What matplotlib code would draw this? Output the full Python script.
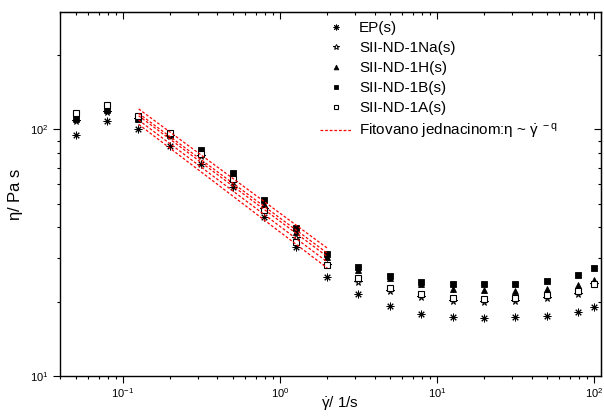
import matplotlib
matplotlib.use("Agg")
import matplotlib.pyplot as plt
from matplotlib.ticker import LogLocator, NullFormatter

plt.rcParams['font.family'] = ['Liberation Sans', 'DejaVu Sans']
plt.rcParams['mathtext.fontset'] = 'custom'
plt.rcParams['mathtext.rm'] = 'Liberation Sans'
plt.rcParams['mathtext.it'] = 'Liberation Sans:italic'
plt.rcParams['mathtext.default'] = 'regular'

# shear rate (1/s)
shear_rate = [0.05, 0.0792, 0.1256, 0.199, 0.315, 0.5, 0.792, 1.256, 1.99,
              3.15, 5, 7.92, 12.56, 19.9, 31.5, 50, 79.2, 100]

ep = [94.8, 108, 100, 85.7, 72.3, 58.3, 44.3, 33.4, 25.3,
      21.5, 19.2, 17.9, 17.3, 17.2, 17.3, 17.5, 18.1, 19.1]
na = [108, 118, 110, 94, 78, 61, 47.5, 36.2, 28.2,
      24.1, 22.2, 20.9, 20.2, 20.0, 20.2, 20.8, 21.6, 23.7]
h = [110, 120, 110.6, 95, 81, 65, 49.8, 38.5, 30.5,
     26.9, 24.9, 23.5, 22.5, 22.3, 22.2, 22.5, 23.4, 24.4]
b = [111, 121, 111, 95.5, 82.4, 66.7, 51.5, 39.9, 31.3,
     27.6, 25.4, 24.1, 23.5, 23.5, 23.5, 24.3, 25.6, 27.5]
a = [116, 126, 113.5, 96.9, 79.3, 62.7, 47, 34.9, 28.2,
     24.9, 22.8, 21.6, 20.8, 20.6, 20.8, 21.3, 22.1, 23.5]

# fitted power-law lines: value at start and at end of fit range
fit_x = [0.126, 2.0]
fit_start = [121, 116, 113.5, 109, 104.8]
fit_end = [33, 31.5, 30.5, 29, 27.4]

labels = ['EP(s)', 'SII-ND-1Na(s)', 'SII-ND-1H(s)', 'SII-ND-1B(s)', 'SII-ND-1A(s)']

fig = plt.figure(figsize=(6.04, 4.17), dpi=100)
ax = fig.add_axes([60/604, 41/417, 541/604, 364/417])

ms = 4.0
handles = []
handles.append(ax.plot(shear_rate, ep, ls='none', marker=(8, 2, 0), ms=5.5, mec='black', mew=0.7, label=labels[0])[0])
handles.append(ax.plot(shear_rate, na, ls='none', marker='*', ms=5.5, mfc='white', mec='black', mew=0.7, label=labels[1])[0])
handles.append(ax.plot(shear_rate, h, ls='none', marker='^', ms=ms+0.5, mfc='black', mec='black', mew=0.6, label=labels[2])[0])
handles.append(ax.plot(shear_rate, b, ls='none', marker='s', ms=ms, mfc='black', mec='black', mew=0.6, label=labels[3])[0])
handles.append(ax.plot(shear_rate, a, ls='none', marker='s', ms=ms, mfc='white', mec='black', mew=0.8, label=labels[4])[0])

fit_handle = None
for s, e in zip(fit_start, fit_end):
    ln, = ax.plot(fit_x, [s, e], color='#ff0000', lw=0.9, ls=(0, (2.2, 1.5)))
    fit_handle = ln
fit_handle.set_label(r'Fitovano jednacinom:$\eta$ ~ $\dot{\gamma}^{\,\,-q}$')
handles.append(fit_handle)

ax.set_xscale('log')
ax.set_yscale('log')
ax.set_xlim(0.0398, 110.5)
ax.set_ylim(10, 299)

ax.xaxis.set_major_locator(LogLocator(base=10, numticks=10))
ax.xaxis.set_minor_locator(LogLocator(base=10, subs=range(2, 10), numticks=20))
ax.yaxis.set_major_locator(LogLocator(base=10, numticks=10))
ax.yaxis.set_minor_locator(LogLocator(base=10, subs=range(2, 10), numticks=20))
ax.xaxis.set_minor_formatter(NullFormatter())
ax.yaxis.set_minor_formatter(NullFormatter())

ax.tick_params(which='both', direction='out', labelsize=8, top=False, right=False)
ax.tick_params(which='major', length=5, width=0.8)
ax.tick_params(which='minor', length=2.5, width=0.8)
ax.tick_params(axis='x', pad=2)

# inward ticks on top/right
axt = ax.secondary_xaxis('top')
axt.tick_params(which='both', direction='in', labeltop=False)
axt.tick_params(which='major', length=5, width=0.8)
axt.tick_params(which='minor', length=2.5, width=0.8)
axt.xaxis.set_minor_locator(LogLocator(base=10, subs=range(2, 10), numticks=20))
axt.xaxis.set_minor_formatter(NullFormatter())
axt.xaxis.set_major_formatter(NullFormatter())
axr = ax.secondary_yaxis('right')
axr.tick_params(which='both', direction='in', labelright=False)
axr.tick_params(which='major', length=5, width=0.8)
axr.tick_params(which='minor', length=2.5, width=0.8)
axr.yaxis.set_minor_locator(LogLocator(base=10, subs=range(2, 10), numticks=20))
axr.yaxis.set_minor_formatter(NullFormatter())
axr.yaxis.set_major_formatter(NullFormatter())

for sp in ax.spines.values():
    sp.set_linewidth(1.0)

ax.set_ylabel(r'$\eta$/ Pa s', fontsize=12)
ax.yaxis.set_label_coords((25 - 60) / 541, 0.5)
ax.set_xlabel(r'$\dot{\gamma}$/ 1/s', fontsize=11)
ax.xaxis.set_label_coords((340 - 60) / 541, -(403 - 376) / 364)
ax.xaxis.label.set_verticalalignment('center')

leg = ax.legend(handles=handles, loc='upper left', bbox_to_anchor=(320/604, 1 - 21/417),
                bbox_transform=fig.transFigure, frameon=False, fontsize=11,
                handlelength=2.1, handletextpad=0.45, labelspacing=0.4,
                borderpad=0.0, borderaxespad=0.0, markerscale=0.75)

fig.savefig('out.png', dpi=100)
